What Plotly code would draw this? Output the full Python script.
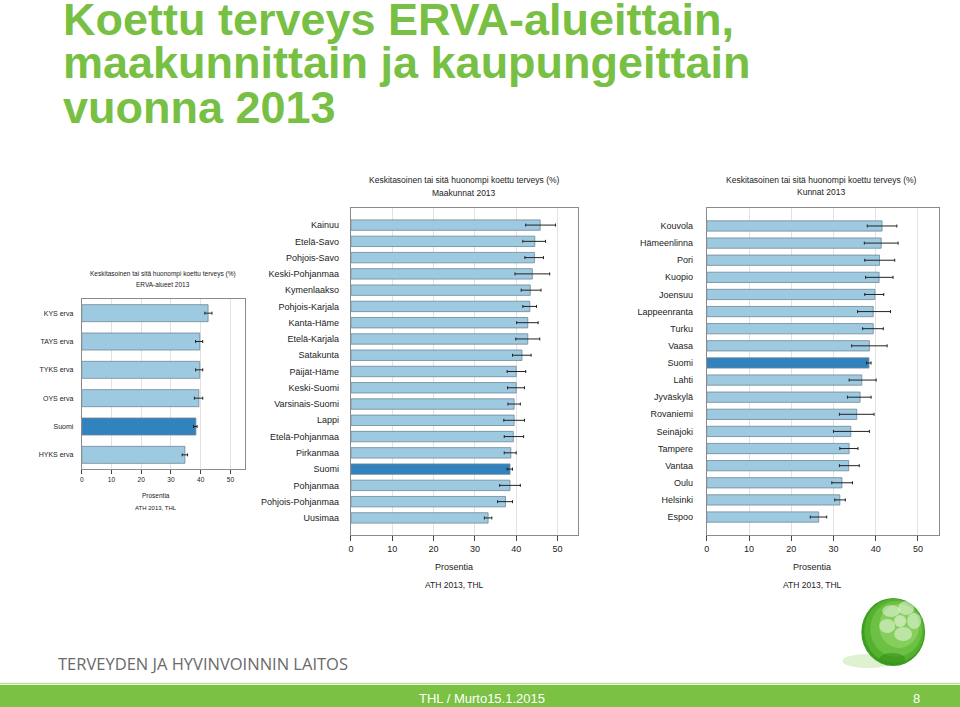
import plotly.graph_objects as go

W, H = 960, 707

# ---------------- data ----------------
erva_labels = ["KYS erva", "TAYS erva", "TYKS erva", "OYS erva", "Suomi", "HYKS erva"]
erva_values = [42.5, 39.7, 39.7, 39.4, 38.4, 34.7]
erva_low = [41.4, 38.3, 38.3, 37.9, 37.6, 33.8]
erva_high = [43.8, 40.7, 40.7, 40.7, 38.8, 35.6]

maak_labels = ["Kainuu", "Etelä-Savo", "Pohjois-Savo", "Keski-Pohjanmaa", "Kymenlaakso",
               "Pohjois-Karjala", "Kanta-Häme", "Etelä-Karjala", "Satakunta", "Päijät-Häme",
               "Keski-Suomi", "Varsinais-Suomi", "Lappi", "Etelä-Pohjanmaa", "Pirkanmaa",
               "Suomi", "Pohjanmaa", "Pohjois-Pohjanmaa", "Uusimaa"]
maak_values = [45.8, 44.5, 44.4, 43.9, 43.4, 43.3, 42.8, 42.8, 41.4, 40.0,
               40.0, 39.5, 39.5, 39.3, 38.7, 38.5, 38.5, 37.4, 33.2]
maak_low = [42.3, 41.6, 42.1, 39.7, 41.2, 41.6, 40.1, 39.9, 39.1, 37.8,
            37.9, 38.0, 37.0, 37.1, 37.1, 37.8, 36.0, 35.5, 32.3]
maak_high = [49.5, 47.1, 46.6, 48.1, 46.0, 44.9, 45.3, 45.7, 43.6, 42.3,
             42.0, 41.0, 42.0, 41.8, 40.0, 39.1, 41.0, 39.1, 34.1]

kunta_labels = ["Kouvola", "Hämeenlinna", "Pori", "Kuopio", "Joensuu", "Lappeenranta",
                "Turku", "Vaasa", "Suomi", "Lahti", "Jyväskylä", "Rovaniemi", "Seinäjoki",
                "Tampere", "Vantaa", "Oulu", "Helsinki", "Espoo"]
kunta_values = [41.5, 41.3, 40.9, 40.8, 39.8, 39.4, 39.4, 38.5, 38.4, 36.7,
                36.3, 35.5, 34.1, 33.7, 33.6, 32.0, 31.5, 26.5]
kunta_low = [38.0, 37.3, 37.4, 37.6, 37.4, 35.7, 36.9, 34.3, 37.8, 33.7,
             33.3, 31.4, 30.0, 31.5, 31.4, 29.6, 30.3, 24.5]
kunta_high = [45.0, 45.3, 44.5, 44.1, 41.9, 43.5, 41.8, 42.7, 38.9, 40.1,
              38.9, 39.6, 38.5, 35.8, 36.1, 34.5, 32.8, 28.4]

x_ticks = [0, 10, 20, 30, 40, 50]
chart_title = "Keskitasoinen tai sitä huonompi koettu terveys (%)"
subtitles = ["ERVA-alueet 2013", "Maakunnat 2013", "Kunnat 2013"]
x_title = "Prosentia"
source = "ATH 2013, THL"
slide_title = ["Koettu terveys ERVA-alueittain,", "maakunnittain ja kaupungeittain", "vuonna 2013"]
org_name = "TERVEYDEN JA HYVINVOINNIN LAITOS"
footer = "THL / Murto15.1.2015"
page_no = "8"

# ---------------- style ----------------
LIGHT = "#9ecae1"
DARK = "#3182bd"
EDGE = "#6e8796"
GREEN = "#78c043"
TXT = "#222222"


def px(x):
    return x / W


def py(y):
    return 1 - y / H


fig = go.Figure()

panels = [
    dict(labels=erva_labels, vals=erva_values, lo=erva_low, hi=erva_high,
         box=(79, 243, 299, 469), yrange=[5.5, -0.5], bw=0.6, fs=6.5, tfs=6.5,
         standoff=6, title_y=(274, 284), title_fs=6.5, xt_y=495, src_y=508, lab_fs=7,
         tcx=160.5),
    dict(labels=maak_labels, vals=maak_values, lo=maak_low, hi=maak_high,
         box=(349, 577, 208, 535), yrange=[19.05, -1.05], bw=0.64, fs=9, tfs=9,
         standoff=9, title_y=(180, 193), title_fs=8.5, xt_y=567, src_y=585, lab_fs=9,
         tcx=462.7),
    dict(labels=kunta_labels, vals=kunta_values, lo=kunta_low, hi=kunta_high,
         box=(706, 939, 208, 535), yrange=[18.05, -1.05], bw=0.6, fs=9, tfs=9,
         standoff=11, title_y=(180, 192), title_fs=8.5, xt_y=567, src_y=585, lab_fs=9,
         tcx=821),
]

annotations = []
shapes = []

for i, p in enumerate(panels):
    n = "" if i == 0 else str(i + 1)
    colors = [DARK if lab == "Suomi" else LIGHT for lab in p["labels"]]
    fig.add_trace(go.Bar(
        x=p["vals"], y=p["labels"], orientation="h",
        marker=dict(color=colors, line=dict(color=EDGE, width=0.8)),
        width=p["bw"],
        error_x=dict(type="data", symmetric=False,
                     array=[h - v for h, v in zip(p["hi"], p["vals"])],
                     arrayminus=[v - l for v, l in zip(p["vals"], p["lo"])],
                     color="#222222", thickness=1, width=1.5),
        xaxis="x" + n, yaxis="y" + n, showlegend=False, hoverinfo="x+y",
    ))
    x0, x1, y0, y1 = p["box"]
    fig.update_layout(**{
        "xaxis" + n: dict(domain=[px(x0), px(x1)], range=[0, 55], tickvals=x_ticks,
                          showgrid=True, gridcolor="#e2e2e2", gridwidth=1,
                          showline=True, linecolor="#8a8a8a", linewidth=1, mirror=True,
                          ticks="outside", ticklen=5 if i else 4, tickcolor="#444",
                          tickfont=dict(size=p["tfs"], color=TXT, family="Liberation Sans"),
                          zeroline=False, anchor="y" + n, fixedrange=True),
        "yaxis" + n: dict(domain=[py(y1), py(y0)], type="category",
                          categoryorder="array", categoryarray=p["labels"],
                          range=p["yrange"], showline=True, linecolor="#8a8a8a",
                          linewidth=1, mirror=True, showgrid=False, ticks="",
                          ticklabelstandoff=p["standoff"],
                          tickfont=dict(size=p["lab_fs"], color=TXT, family="Liberation Sans"),
                          anchor="x" + n, fixedrange=True),
    })
    for txt, yy in ((chart_title, p["title_y"][0]), (subtitles[i], p["title_y"][1])):
        annotations.append(dict(text=txt, x=px(p["tcx"]), y=py(yy), xref="paper", yref="paper",
                                showarrow=False, xanchor="center", yanchor="middle",
                                font=dict(size=p["title_fs"], color=TXT, family="Liberation Sans")))
    xc = px(x0 + (x1 - x0) * 25 / 55)
    annotations.append(dict(text=x_title, x=xc, y=py(p["xt_y"]), xref="paper", yref="paper",
                            showarrow=False, xanchor="center", yanchor="middle",
                            font=dict(size=p["fs"], color=TXT, family="Liberation Sans")))
    annotations.append(dict(text=source, x=xc, y=py(p["src_y"]), xref="paper", yref="paper",
                            showarrow=False, xanchor="center", yanchor="middle",
                            font=dict(size=p["fs"] - 0.5, color=TXT, family="Liberation Sans")))

# slide title
for k, (line, yc) in enumerate(zip(slide_title, [20, 63, 107])):
    annotations.append(dict(text="<b>" + line + "</b>", x=px(58), y=py(yc), xref="paper",
                            yref="paper", showarrow=False, xanchor="left", yanchor="middle",
                            font=dict(size=45, color=GREEN, family="Liberation Sans")))

# organisation name
annotations.append(dict(text=org_name, x=px(53), y=py(663), xref="paper", yref="paper",
                        showarrow=False, xanchor="left", yanchor="middle",
                        font=dict(size=16.5, color="#6a6a6a", family="Open Sans")))

# footer band
shapes.append(dict(type="rect", xref="paper", yref="paper", x0=-0.01, x1=1.01, y0=-0.01, y1=py(685),
                   fillcolor="#7bc143", line=dict(width=0), layer="below"))
shapes.append(dict(type="line", xref="paper", yref="paper", x0=-0.01, x1=1.01, y0=py(683.5), y1=py(683.5),
                   line=dict(color="#b7df95", width=1.5), layer="below"))
annotations.append(dict(text=footer, x=px(480), y=py(698), xref="paper", yref="paper",
                        showarrow=False, xanchor="center", yanchor="middle",
                        font=dict(size=13, color="white", family="Liberation Sans")))
annotations.append(dict(text=page_no, x=px(916), y=py(698), xref="paper", yref="paper",
                        showarrow=False, xanchor="center", yanchor="middle",
                        font=dict(size=13, color="white", family="Liberation Sans")))


# logo sphere (decorative)
def ell(cx, cy, rx, ry, color, op=1.0):
    shapes.append(dict(type="circle", xref="paper", yref="paper",
                       x0=px(cx - rx), x1=px(cx + rx), y0=py(cy + ry), y1=py(cy - ry),
                       fillcolor=color, opacity=op, line=dict(width=0), layer="above"))


ell(868, 661, 26, 7, "#d6edc6", 0.8)
ell(893, 632, 32, 34, "#3f9e22")
ell(894, 631, 30, 32, "#55b22f")
ell(896, 629, 26, 28, "#6cc043")
ell(899, 626, 20, 22, "#86cf5c")
ell(892, 659, 13, 6, "#358f1c", 0.6)
# flower highlight
for (ccx, ccy, rx, ry) in [(891, 611, 9, 6), (906, 608, 8, 7), (914, 621, 7, 8),
                           (903, 634, 9, 7), (887, 626, 8, 7)]:
    ell(ccx, ccy, rx, ry, "#ffffff", 0.45)
ell(900, 621, 6, 6, "#ffffff", 0.5)

fig.update_layout(
    width=W, height=H, margin=dict(l=0, r=0, t=0, b=0),
    paper_bgcolor="white", plot_bgcolor="white",
    annotations=annotations, shapes=shapes, bargap=0.4,
    font=dict(family="Liberation Sans", color=TXT),
)

fig.write_html("out.html")
